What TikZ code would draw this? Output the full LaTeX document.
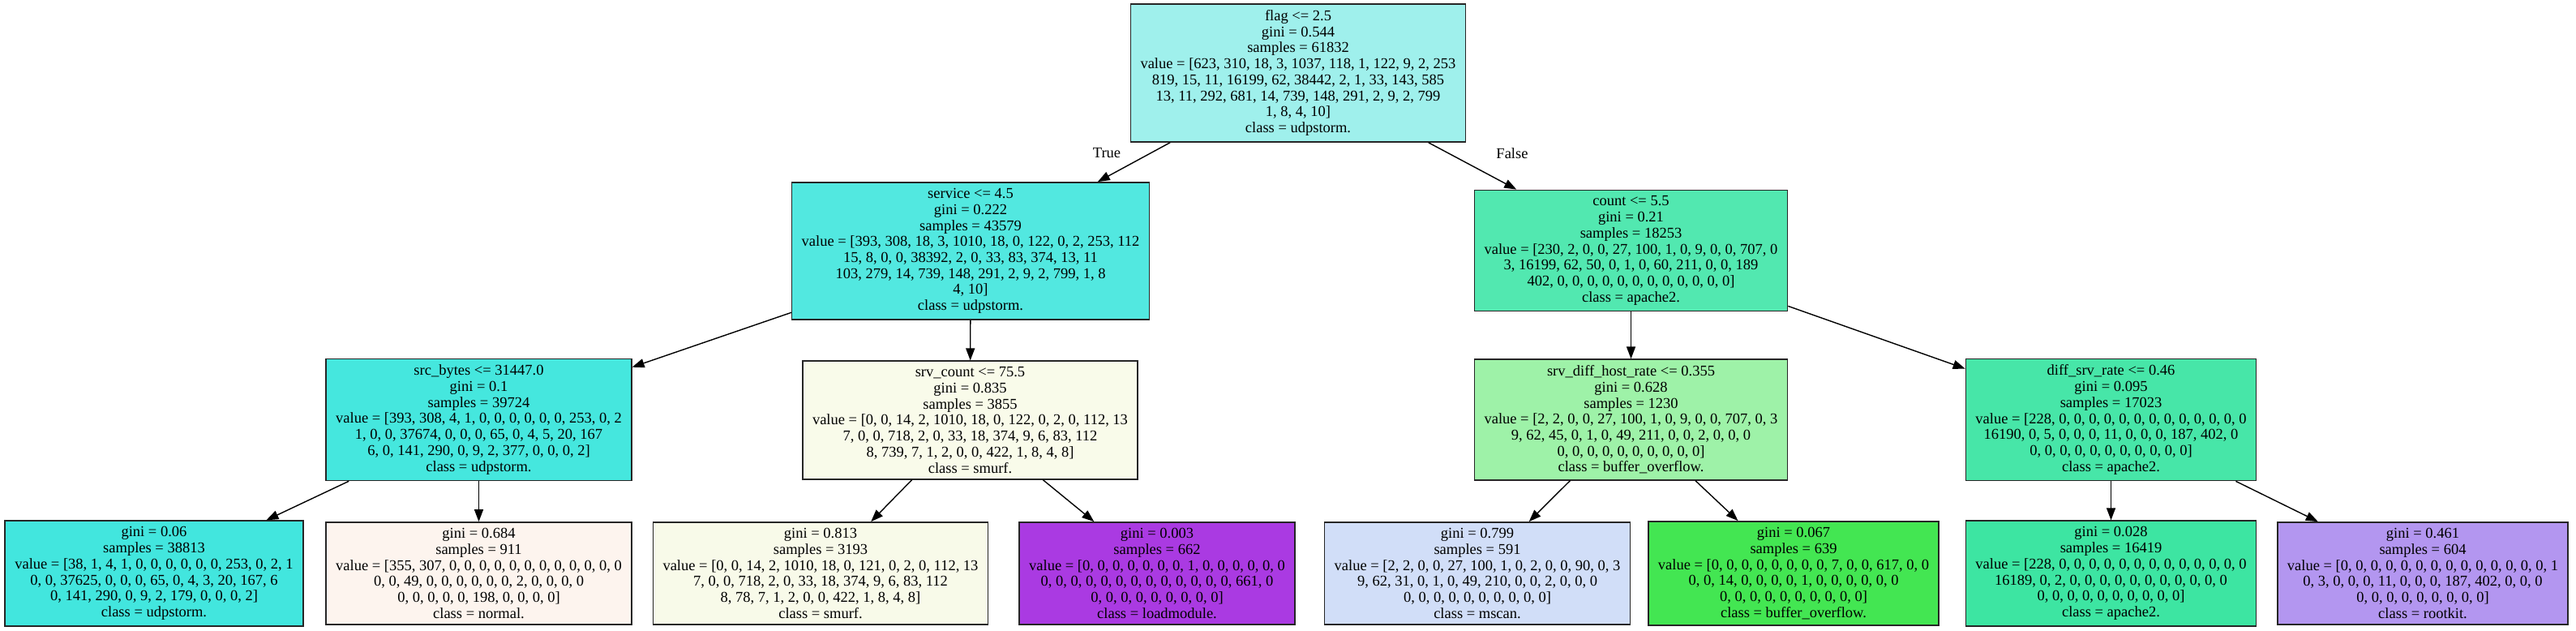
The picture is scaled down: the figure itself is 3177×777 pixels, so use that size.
\documentclass[tikz,border=0pt]{standalone}
\usepackage{fontspec}
\setmainfont{Liberation Serif}
\usetikzlibrary{arrows.meta,positioning}
\definecolor{flagcol}{RGB}{159,240,236}
\definecolor{servicecol}{RGB}{82,232,224}
\definecolor{countcol}{RGB}{82,232,176}
\definecolor{srcbytescol}{RGB}{69,231,222}
\definecolor{srvcountcol}{RGB}{249,251,234}
\definecolor{hostratecol}{RGB}{158,242,168}
\definecolor{diffsrvcol}{RGB}{71,230,168}
\definecolor{udpcol}{RGB}{66,230,222}
\definecolor{normalcol}{RGB}{253,244,238}
\definecolor{smurfcol}{RGB}{248,250,233}
\definecolor{loadcol}{RGB}{170,58,226}
\definecolor{mscancol}{RGB}{209,222,248}
\definecolor{bufcol}{RGB}{67,230,82}
\definecolor{apachecol}{RGB}{61,229,162}
\definecolor{rootkitcol}{RGB}{179,150,240}

\begin{document}
\begin{tikzpicture}[x=1pt,y=-1pt,
  treenode/.style={draw=black!85,line width=1.6pt,align=center,inner xsep=12pt,inner ysep=7.5pt,font=\fontsize{18.5}{19.7}\selectfont},
  treeedge/.style={line width=1.4pt,-{Triangle[length=15pt,width=11pt]}},
  sidelabel/.style={font=\fontsize{18.5}{19.7}\selectfont}]
\useasboundingbox[fill=white] (0,0) rectangle (3177,777);

% level 0
\node[treenode,fill=flagcol] (flag) at (1601,90) {flag <= 2.5\\gini = 0.544\\samples = 61832\\value = [623, 310, 18, 3, 1037, 118, 1, 122, 9, 2, 253\\819, 15, 11, 16199, 62, 38442, 2, 1, 33, 143, 585\\13, 11, 292, 681, 14, 739, 148, 291, 2, 9, 2, 799\\1, 8, 4, 10]\\class = udpstorm.};

% level 1
\node[treenode,fill=servicecol] (service) at (1197,309.5) {service <= 4.5\\gini = 0.222\\samples = 43579\\value = [393, 308, 18, 3, 1010, 18, 0, 122, 0, 2, 253, 112\\15, 8, 0, 0, 38392, 2, 0, 33, 83, 374, 13, 11\\103, 279, 14, 739, 148, 291, 2, 9, 2, 799, 1, 8\\4, 10]\\class = udpstorm.};
\node[treenode,fill=countcol] (count) at (2011.5,309) {count <= 5.5\\gini = 0.21\\samples = 18253\\value = [230, 2, 0, 0, 27, 100, 1, 0, 9, 0, 0, 707, 0\\3, 16199, 62, 50, 0, 1, 0, 60, 211, 0, 0, 189\\402, 0, 0, 0, 0, 0, 0, 0, 0, 0, 0, 0, 0]\\class = apache2.};

% level 2
\node[treenode,fill=srcbytescol] (srcbytes) at (590.5,517.5) {src\_bytes <= 31447.0\\gini = 0.1\\samples = 39724\\value = [393, 308, 4, 1, 0, 0, 0, 0, 0, 0, 253, 0, 2\\1, 0, 0, 37674, 0, 0, 0, 65, 0, 4, 5, 20, 167\\6, 0, 141, 290, 0, 9, 2, 377, 0, 0, 0, 2]\\class = udpstorm.};
\node[treenode,fill=srvcountcol] (srvcount) at (1196.5,518) {srv\_count <= 75.5\\gini = 0.835\\samples = 3855\\value = [0, 0, 14, 2, 1010, 18, 0, 122, 0, 2, 0, 112, 13\\7, 0, 0, 718, 2, 0, 33, 18, 374, 9, 6, 83, 112\\8, 739, 7, 1, 2, 0, 0, 422, 1, 8, 4, 8]\\class = smurf.};
\node[treenode,fill=hostratecol] (hostrate) at (2011.5,517.5) {srv\_diff\_host\_rate <= 0.355\\gini = 0.628\\samples = 1230\\value = [2, 2, 0, 0, 27, 100, 1, 0, 9, 0, 0, 707, 0, 3\\9, 62, 45, 0, 1, 0, 49, 211, 0, 0, 2, 0, 0, 0\\0, 0, 0, 0, 0, 0, 0, 0, 0, 0]\\class = buffer\_overflow.};
\node[treenode,fill=diffsrvcol] (diffsrv) at (2603.5,517.5) {diff\_srv\_rate <= 0.46\\gini = 0.095\\samples = 17023\\value = [228, 0, 0, 0, 0, 0, 0, 0, 0, 0, 0, 0, 0, 0\\16190, 0, 5, 0, 0, 0, 11, 0, 0, 0, 187, 402, 0\\0, 0, 0, 0, 0, 0, 0, 0, 0, 0, 0]\\class = apache2.};

% leaves
\node[treenode,fill=udpcol] (leafudp) at (190,707) {gini = 0.06\\samples = 38813\\value = [38, 1, 4, 1, 0, 0, 0, 0, 0, 0, 253, 0, 2, 1\\0, 0, 37625, 0, 0, 0, 65, 0, 4, 3, 20, 167, 6\\0, 141, 290, 0, 9, 2, 179, 0, 0, 0, 2]\\class = udpstorm.};
\node[treenode,fill=normalcol] (leafnormal) at (590.5,707) {gini = 0.684\\samples = 911\\value = [355, 307, 0, 0, 0, 0, 0, 0, 0, 0, 0, 0, 0, 0\\0, 0, 49, 0, 0, 0, 0, 0, 0, 2, 0, 0, 0, 0\\0, 0, 0, 0, 0, 198, 0, 0, 0, 0]\\class = normal.};
\node[treenode,fill=smurfcol] (leafsmurf) at (1012,707) {gini = 0.813\\samples = 3193\\value = [0, 0, 14, 2, 1010, 18, 0, 121, 0, 2, 0, 112, 13\\7, 0, 0, 718, 2, 0, 33, 18, 374, 9, 6, 83, 112\\8, 78, 7, 1, 2, 0, 0, 422, 1, 8, 4, 8]\\class = smurf.};
\node[treenode,fill=loadcol] (leafload) at (1427,707) {gini = 0.003\\samples = 662\\value = [0, 0, 0, 0, 0, 0, 0, 1, 0, 0, 0, 0, 0, 0\\0, 0, 0, 0, 0, 0, 0, 0, 0, 0, 0, 0, 0, 661, 0\\0, 0, 0, 0, 0, 0, 0, 0, 0]\\class = loadmodule.};
\node[treenode,fill=mscancol] (leafmscan) at (1822,707) {gini = 0.799\\samples = 591\\value = [2, 2, 0, 0, 27, 100, 1, 0, 2, 0, 0, 90, 0, 3\\9, 62, 31, 0, 1, 0, 49, 210, 0, 0, 2, 0, 0, 0\\0, 0, 0, 0, 0, 0, 0, 0, 0, 0]\\class = mscan.};
\node[treenode,fill=bufcol] (leafbuf) at (2212,707) {gini = 0.067\\samples = 639\\value = [0, 0, 0, 0, 0, 0, 0, 0, 7, 0, 0, 617, 0, 0\\0, 0, 14, 0, 0, 0, 0, 1, 0, 0, 0, 0, 0, 0\\0, 0, 0, 0, 0, 0, 0, 0, 0, 0]\\class = buffer\_overflow.};
\node[treenode,fill=apachecol] (leafapache) at (2603.5,707) {gini = 0.028\\samples = 16419\\value = [228, 0, 0, 0, 0, 0, 0, 0, 0, 0, 0, 0, 0, 0\\16189, 0, 2, 0, 0, 0, 0, 0, 0, 0, 0, 0, 0, 0\\0, 0, 0, 0, 0, 0, 0, 0, 0, 0]\\class = apache2.};
\node[treenode,fill=rootkitcol] (leafrootkit) at (2988,707) {gini = 0.461\\samples = 604\\value = [0, 0, 0, 0, 0, 0, 0, 0, 0, 0, 0, 0, 0, 0, 1\\0, 3, 0, 0, 0, 11, 0, 0, 0, 187, 402, 0, 0, 0\\0, 0, 0, 0, 0, 0, 0, 0, 0]\\class = rootkit.};

% edges
\draw[treeedge] (flag) -- (service);
\draw[treeedge] (flag) -- (count);
\draw[treeedge] (service) -- (srcbytes);
\draw[treeedge] (service) -- (srvcount);
\draw[treeedge] (count) -- (hostrate);
\draw[treeedge] (count) -- (diffsrv);
\draw[treeedge] (srcbytes) -- (leafudp);
\draw[treeedge] (srcbytes) -- (leafnormal);
\draw[treeedge] (srvcount) -- (leafsmurf);
\draw[treeedge] (srvcount) -- (leafload);
\draw[treeedge] (hostrate) -- (leafmscan);
\draw[treeedge] (hostrate) -- (leafbuf);
\draw[treeedge] (diffsrv) -- (leafapache);
\draw[treeedge] (diffsrv) -- (leafrootkit);

\node[sidelabel] (truelbl) at (1365,189) {True};
\node[sidelabel] (falselbl) at (1865,189) {False};
\end{tikzpicture}
\end{document}
